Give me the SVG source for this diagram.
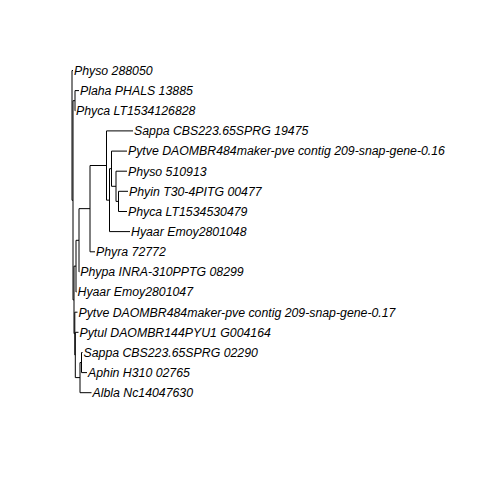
<svg xmlns="http://www.w3.org/2000/svg" width="480" height="480" viewBox="0 0 480 480">
<style>
.e{fill:none;stroke:#000;stroke-width:1}
.t{font-family:"Liberation Sans",Arial,sans-serif;font-style:italic;font-size:12.3px;fill:#000}
</style>
<rect width="480" height="480" fill="#fff"/>
<g transform="translate(0,-1.5)">
<g id="connectors" class="e">
<path d="M72 72V201.8M73 102.2V301.4M75 92.1V112.3M74 267.65V335.1M76 241.8V293.5M79 210.15V273.4M90 167V253.3M106.5 132.4V201.65M109.5 170.2V233.1M111.5 152.6V187.8M116 172.7V202.9M118.5 192.8V213M74.8 313.7V356.45M75.3 333.8V379.1M80 364.05V394.2M81.5 354V374.1"/>
<path d="M72 72H73M72 201.8H73M73 102.2H75M75 92.1H79M75 112.3H75.3M73 301.4H74M74 267.65H76M76 241.8H79M76 293.5H76.5M79 210.15H90M79 273.4H79.3M90 167H106.5M90 253.3H95M106.5 132.4H133M106.5 201.65H109.5M109.5 170.2H111.5M109.5 233.1H130M111.5 152.6H127M111.5 187.8H116M116 172.7H127M116 202.9H118.5M118.5 192.8H128M118.5 213H127M74 335.1H74.8M74.8 313.7H77.5M74.8 356.45H75.3M75.3 333.8H78.5M75.3 379.1H80M80 364.05H81.5M80 394.2H91.5M81.5 354H82.5M81.5 374.1H87"/>
</g>
<g id="tip1"><text class="t" x="74" y="76.3">Physo 288050</text></g>
<g id="tip2"><text class="t" x="80" y="96.4">Plaha PHALS 13885</text></g>
<g id="tip3"><text class="t" x="76" y="116.6">Phyca LT1534126828</text></g>
<g id="tip4"><text class="t" x="134" y="136.7">Sappa CBS223.65SPRG 19475</text></g>
<g id="tip5"><text class="t" x="128" y="156.9">Pytve DAOMBR484maker-pve contig 209-snap-gene-0.16</text></g>
<g id="tip6"><text class="t" x="128" y="177">Physo 510913</text></g>
<g id="tip7"><text class="t" x="129" y="197.1">Phyin T30-4PITG 00477</text></g>
<g id="tip8"><text class="t" x="128" y="217.3">Phyca LT1534530479</text></g>
<g id="tip9"><text class="t" x="131" y="237.4">Hyaar Emoy2801048</text></g>
<g id="tip10"><text class="t" x="96" y="257.6">Phyra 72772</text></g>
<g id="tip11"><text class="t" x="80.3" y="277.7">Phypa INRA-310PPTG 08299</text></g>
<g id="tip12"><text class="t" x="77.5" y="297.8">Hyaar Emoy2801047</text></g>
<g id="tip13"><text class="t" x="78.5" y="318">Pytve DAOMBR484maker-pve contig 209-snap-gene-0.17</text></g>
<g id="tip14"><text class="t" x="79.5" y="338.1">Pytul DAOMBR144PYU1 G004164</text></g>
<g id="tip15"><text class="t" x="83.5" y="358.3">Sappa CBS223.65SPRG 02290</text></g>
<g id="tip16"><text class="t" x="88" y="378.4">Aphin H310 02765</text></g>
<g id="tip17"><text class="t" x="92.5" y="398.5">Albla Nc14047630</text></g>
</g>
</svg>
